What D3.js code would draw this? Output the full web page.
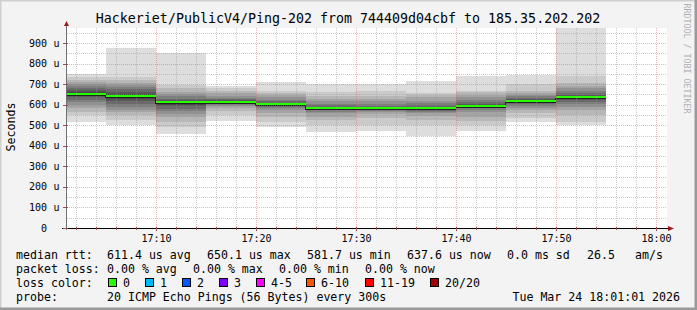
<!DOCTYPE html>
<html>
<head>
<meta charset="utf-8">
<script src="https://cdn.jsdelivr.net/npm/d3@7"></script>
<style>
  body { margin: 0; background: #f3f3f3; }
  svg { display: block; font-family: "DejaVu Sans Mono", monospace; }
</style>
</head>
<body>
<div id="chart"></div>
<script>
// 5-minute steps, each holds 20 sorted ping rtts in microseconds
const stepEnds = ["17:05", "17:10", "17:15", "17:20", "17:25", "17:30", "17:35", "17:40", "17:45", "17:50", "17:55"];
const pings = [
  [517, 550, 565, 584, 600, 612, 625, 635, 642, 648, 652, 660, 670, 682, 690, 699, 710, 720, 737, 749],
  [500, 526, 550, 563, 574, 590, 605, 618, 630, 637, 643, 650, 660, 675, 687, 697, 704, 720, 737, 877],
  [456, 493, 517, 540, 555, 567, 580, 592, 600, 607, 613, 618, 624, 630, 640, 650, 663, 680, 697, 850],
  [522, 550, 567, 582, 594, 600, 605, 609, 612, 614, 616, 618, 622, 628, 634, 640, 656, 668, 680, 691],
  [491, 518, 542, 558, 574, 582, 588, 592, 596, 599, 601, 604, 610, 618, 624, 636, 648, 658, 668, 708],
  [465, 502, 526, 542, 558, 566, 572, 576, 579, 581, 583, 586, 590, 596, 605, 616, 630, 640, 664, 700],
  [473, 502, 535, 555, 565, 570, 574, 577, 579, 581, 583, 586, 590, 595, 605, 619, 630, 640, 668, 701],
  [446, 502, 526, 545, 558, 565, 570, 574, 578, 580, 582, 585, 590, 598, 610, 620, 635, 645, 656, 713],
  [473, 502, 520, 542, 563, 574, 582, 588, 592, 595, 597, 600, 605, 612, 624, 635, 648, 660, 668, 741],
  [517, 535, 558, 574, 585, 595, 603, 609, 613, 616, 618, 621, 626, 633, 640, 648, 656, 668, 699, 745],
  [502, 517, 550, 574, 590, 605, 615, 622, 628, 633, 637, 642, 648, 656, 665, 680, 690, 704, 741, 985]
];
const medians = [650.1, 640.5, 610.8, 614.2, 601.0, 581.7, 583.0, 582.5, 595.6, 619.5, 637.6];

const yTicks = [0, 100, 200, 300, 400, 500, 600, 700, 800, 900];
const xTicks = ["17:10", "17:20", "17:30", "17:40", "17:50", "18:00"];

const lossLabels = ["0", "1", "2", "3", "4-5", "6-10", "11-19", "20/20"];
const lossColors = ["#26ff00", "#00b8ff", "#0059ff", "#7e00ff", "#ff00ff", "#ff5500", "#ff0000", "#a10000"];

const rttStats = ["611.4 us avg", "650.1 us max", "581.7 us min", "637.6 us now", "0.0 ms sd", "26.5", "am/s"];
const lossStats = ["0.00 % avg", "0.00 % max", "0.00 % min", "0.00 % now"];

const W = 697, H = 310;
const plot = { left: 67, right: 667, top: 28, bottom: 228 };

const parseTime = d3.timeParse("%H:%M:%S");
const t = s => parseTime(s.length === 5 ? s + ":00" : s);

const x = d3.scaleTime()
    .domain([t("17:01:08"), t("18:01:08")])
    .range([plot.left, plot.right]);
const y = d3.scaleLinear()
    .domain([0, 973])
    .range([plot.bottom, plot.top]);

const svg = d3.select("#chart").append("svg")
    .attr("width", W)
    .attr("height", H);

// canvas + 3d frame
svg.append("rect").attr("width", W).attr("height", H).attr("fill", "#f3f3f3");
svg.append("path").attr("d", `M0,${H} V0 H${W}`).attr("stroke", "#cfcfcf").attr("stroke-width", 3).attr("fill", "none");
svg.append("path").attr("d", `M${W - 1},0 V${H - 1} H0`).attr("stroke", "#9a9a9a").attr("stroke-width", 3).attr("fill", "none");

svg.append("rect")
    .attr("x", plot.left).attr("y", plot.top)
    .attr("width", plot.right - plot.left).attr("height", plot.bottom - plot.top)
    .attr("fill", "#ffffff");

svg.append("clipPath").attr("id", "clip")
    .append("rect")
    .attr("x", plot.left).attr("y", plot.top)
    .attr("width", plot.right - plot.left).attr("height", plot.bottom - plot.top);

const g = svg.append("g").attr("clip-path", "url(#clip)");

// smoke: ping i paired with ping 21-i, darker toward the middle
const half = 10;
const bands = [];
pings.forEach(function (p, s) {
    const end = t(stepEnds[s]);
    const start = d3.timeMinute.offset(end, -5);
    for (let i = 0; i < half; i++) {
        const c = Math.floor(190 / half * (half - (i + 1))) + 50;
        bands.push({ start: start, end: end, lo: p[i], hi: p[19 - i], color: d3.rgb(c, c, c) });
    }
});

g.selectAll("rect.smoke")
    .data(bands)
    .join("rect")
    .attr("class", "smoke")
    .attr("x", d => x(d.start))
    .attr("width", d => x(d.end) - x(d.start))
    .attr("y", d => y(d.hi))
    .attr("height", d => y(d.lo) - y(d.hi))
    .attr("fill", d => d.color)
    .attr("shape-rendering", "crispEdges");

// median: dark step line + green bar (loss 0)
const medPts = [];
medians.forEach(function (m, s) {
    const end = t(stepEnds[s]);
    medPts.push([d3.timeMinute.offset(end, -5), m]);
    medPts.push([end, m]);
});
g.append("path")
    .attr("d", d3.line().x(d => x(d[0])).y(d => Math.round(y(d[1])) + 1.5)(medPts))
    .attr("fill", "none")
    .attr("stroke", "#202020")
    .attr("stroke-width", 1)
    .attr("shape-rendering", "crispEdges");

g.selectAll("rect.med")
    .data(medians)
    .join("rect")
    .attr("class", "med")
    .attr("x", (d, i) => x(d3.timeMinute.offset(t(stepEnds[i]), -5)))
    .attr("width", (d, i) => x(t(stepEnds[i])) - x(d3.timeMinute.offset(t(stepEnds[i]), -5)))
    .attr("y", d => Math.round(y(d)) - 1)
    .attr("height", 2)
    .attr("fill", lossColors[0])
    .attr("shape-rendering", "crispEdges");

// grid on top
const grid = svg.append("g").attr("shape-rendering", "crispEdges");
const minorX = d3.timeMinute.every(2).range(x.domain()[0], x.domain()[1]).filter(d => d.getMinutes() % 10 !== 0);
const majorX = d3.timeMinute.every(10).range(x.domain()[0], x.domain()[1]);
const minorY = d3.range(50, 973, 100);
const majorY = d3.range(100, 973, 100);

grid.selectAll("line.mx").data(minorX).join("line")
    .attr("x1", d => Math.round(x(d)) + 0.5).attr("x2", d => Math.round(x(d)) + 0.5)
    .attr("y1", plot.top).attr("y2", plot.bottom)
    .attr("stroke", "rgba(150,150,150,0.5)").attr("stroke-dasharray", "1,1");
grid.selectAll("line.my").data(minorY).join("line")
    .attr("x1", plot.left).attr("x2", plot.right)
    .attr("y1", d => Math.round(y(d)) + 0.5).attr("y2", d => Math.round(y(d)) + 0.5)
    .attr("stroke", "rgba(150,150,150,0.5)").attr("stroke-dasharray", "1,1");
grid.selectAll("line.Mx").data(majorX).join("line")
    .attr("x1", d => Math.round(x(d)) + 0.5).attr("x2", d => Math.round(x(d)) + 0.5)
    .attr("y1", plot.top).attr("y2", plot.bottom)
    .attr("stroke", "rgba(215,90,90,0.45)").attr("stroke-dasharray", "1,1");
grid.selectAll("line.My").data(majorY).join("line")
    .attr("x1", plot.left).attr("x2", plot.right)
    .attr("y1", d => Math.round(y(d)) + 0.5).attr("y2", d => Math.round(y(d)) + 0.5)
    .attr("stroke", "rgba(215,90,90,0.45)").attr("stroke-dasharray", "1,1");

// axes
const ax = svg.append("g").attr("shape-rendering", "crispEdges");
ax.append("line").attr("x1", plot.left - 0.5).attr("x2", plot.left - 0.5)
    .attr("y1", plot.bottom + 2).attr("y2", plot.top - 4).attr("stroke", "#707070");
ax.append("line").attr("x1", plot.left - 5).attr("x2", plot.right + 3)
    .attr("y1", plot.bottom + 0.5).attr("y2", plot.bottom + 0.5).attr("stroke", "#000");
ax.selectAll("line.tx").data(majorX.concat(minorX)).join("line")
    .attr("x1", d => Math.round(x(d)) + 0.5).attr("x2", d => Math.round(x(d)) + 0.5)
    .attr("y1", plot.bottom - 1).attr("y2", d => plot.bottom + (d.getMinutes() % 10 === 0 ? 3 : 2))
    .attr("stroke", "#a05050");
ax.selectAll("line.ty").data(yTicks).join("line")
    .attr("x1", plot.left - 4).attr("x2", plot.left + 1)
    .attr("y1", d => Math.round(y(d)) + 0.5).attr("y2", d => Math.round(y(d)) + 0.5)
    .attr("stroke", "#a05050");
svg.append("path")
    .attr("d", `M${plot.left - 3},${plot.top - 2} L${plot.left - 0.5},${plot.top - 7} L${plot.left + 2},${plot.top - 2} Z`)
    .attr("fill", "#a01818");
svg.append("path")
    .attr("d", `M${plot.right + 1},${plot.bottom - 2} L${plot.right + 7},${plot.bottom + 0.5} L${plot.right + 1},${plot.bottom + 3} Z`)
    .attr("fill", "#a01818");

// tick labels
svg.selectAll("text.yl").data(yTicks).join("text")
    .attr("x", 47).attr("y", d => y(d) + 3.6)
    .attr("text-anchor", "end").attr("font-size", "10px").attr("fill", "#000")
    .text(d => d === 0 ? "0" : d);
svg.selectAll("text.yu").data(yTicks.filter(d => d !== 0)).join("text")
    .attr("x", 53.5).attr("y", d => y(d) + 3.6)
    .attr("font-size", "10px").attr("fill", "#000")
    .text("u");
svg.selectAll("text.xl").data(xTicks).join("text")
    .attr("x", d => Math.round(x(t(d))) + 0.5).attr("y", 241.5)
    .attr("text-anchor", "middle").attr("font-size", "10px").attr("fill", "#000")
    .text(d => d);

// titles
svg.append("text")
    .attr("x", 348).attr("y", 23)
    .attr("text-anchor", "middle").attr("font-size", "13.3px").attr("fill", "#000")
    .text("Hackeriet/PublicV4/Ping-202 from 744409d04cbf to 185.35.202.202");
svg.append("text")
    .attr("transform", "translate(15,127) rotate(-90)")
    .attr("text-anchor", "middle").attr("font-size", "11.6px").attr("fill", "#000")
    .text("Seconds");
svg.append("text")
    .attr("transform", "translate(684,3.5) rotate(90)")
    .attr("font-size", "8.3px").attr("fill", "#b0b0b0")
    .text("RRDTOOL / TOBI OETIKER");

// legend
const lg = svg.append("g").attr("font-size", "11.6px").attr("fill", "#000");
const rows = [258.5, 272.5, 286.5, 300.5];
const rttX = [107, 207, 307, 407, 507, 587, 635];
const lossX = [107, 193, 279, 365];
lg.append("text").attr("x", 16).attr("y", rows[0]).text("median rtt:");
lg.selectAll("text.rtt").data(rttStats).join("text")
    .attr("x", (d, i) => rttX[i]).attr("y", rows[0]).text(d => d);
lg.append("text").attr("x", 16).attr("y", rows[1]).text("packet loss:");
lg.selectAll("text.loss").data(lossStats).join("text")
    .attr("x", (d, i) => lossX[i]).attr("y", rows[1]).text(d => d);
lg.append("text").attr("x", 16).attr("y", rows[2]).text("loss color:");
const boxX = [108.5, 145.5, 182.5, 219.5, 256.5, 306.5, 365.5, 430.5];
lg.selectAll("rect.lc").data(lossColors).join("rect")
    .attr("x", (d, i) => boxX[i]).attr("y", rows[2] - 8.5)
    .attr("width", 8).attr("height", 8)
    .attr("fill", d => d).attr("stroke", "#000").attr("stroke-width", 1)
    .attr("shape-rendering", "crispEdges");
lg.selectAll("text.ll").data(lossLabels).join("text")
    .attr("x", (d, i) => boxX[i] + 14.5).attr("y", rows[2]).text(d => d);
lg.append("text").attr("x", 16).attr("y", rows[3]).text("probe:");
lg.append("text").attr("x", 107).attr("y", rows[3]).text("20 ICMP Echo Pings (56 Bytes) every 300s");
lg.append("text").attr("x", 680).attr("y", rows[3]).attr("text-anchor", "end").text("Tue Mar 24 18:01:01 2026");
</script>
</body>
</html>
